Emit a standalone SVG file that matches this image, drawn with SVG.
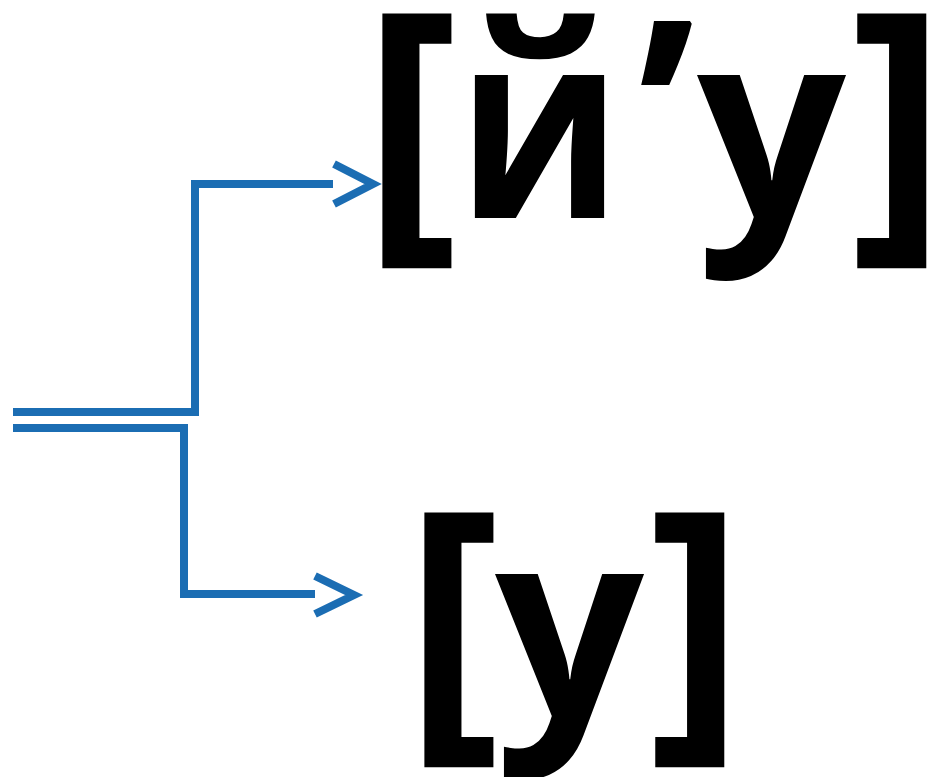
<svg xmlns="http://www.w3.org/2000/svg" width="934" height="777" viewBox="0 0 934 777">
<style>
.c{fill:none;stroke:#1b6db3;stroke-width:8;stroke-linejoin:miter;stroke-linecap:butt}
.t{font-family:"Open Sans","Noto Sans","DejaVu Sans",sans-serif;font-weight:700;font-size:262px;fill:#000}
.b{font-size:292px}
</style>
<rect width="934" height="777" fill="#fff"/>
<g id="connectors">
<path class="c" d="M13 412 H195 V184 H333"/>
<polyline class="c" points="334,164 373,184 334,204"/>
<path class="c" d="M13 428 H184 V594 H315"/>
<polyline class="c" points="315,576 354,595 315,614"/>
</g>
<g id="node-top">
<text class="t" y="218"><tspan class="b" x="362" y="222">[</tspan><tspan x="457" y="218" textLength="165" lengthAdjust="spacingAndGlyphs">й</tspan><tspan x="638" y="208">’</tspan><tspan x="697" y="218">у</tspan><tspan class="b" x="850" y="222">]</tspan></text>
</g>
<g id="node-bottom">
<text class="t" y="717"><tspan class="b" x="404" y="721">[</tspan><tspan x="495" y="717">у</tspan><tspan class="b" x="648" y="721">]</tspan></text>
</g>
</svg>
